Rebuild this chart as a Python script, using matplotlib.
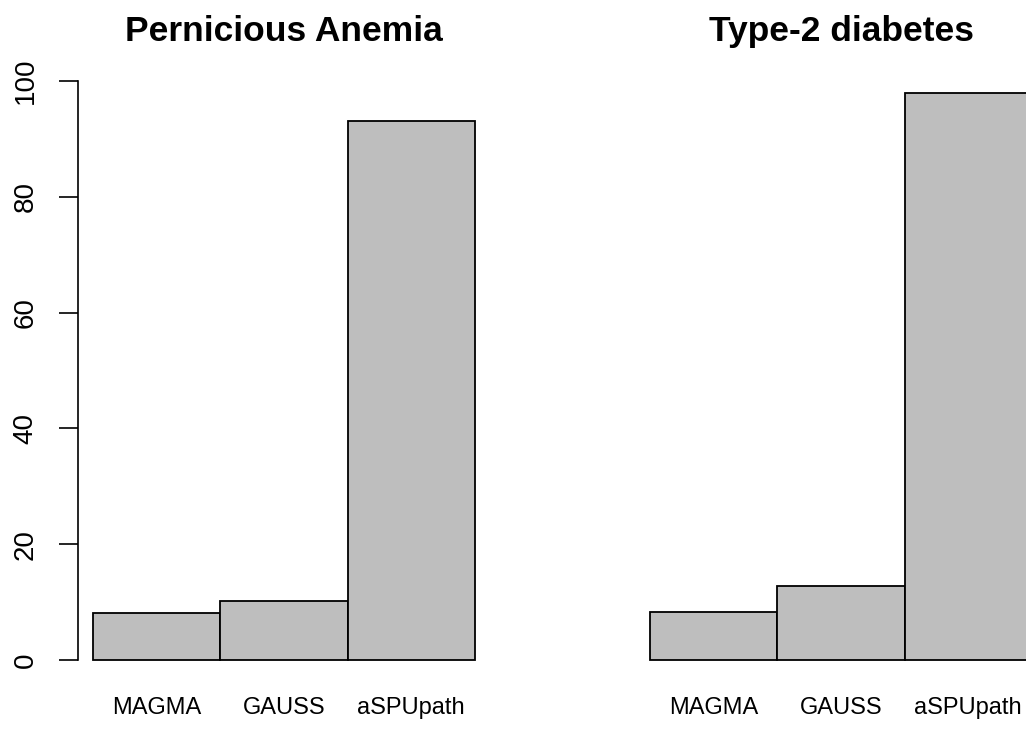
import matplotlib
matplotlib.use("Agg")
import matplotlib.pyplot as plt

# bar values (percent)
methods = ["MAGMA", "GAUSS", "aSPUpath"]
anemia = [8.1, 10.2, 93.1]
diabetes = [8.3, 12.8, 98.0]
titles = ["Pernicious Anemia", "Type-2 diabetes"]
yticks = [0, 20, 40, 60, 80, 100]

plt.rcParams["font.family"] = ["Liberation Sans", "DejaVu Sans"]

W, H = 1026, 732
fig = plt.figure(figsize=(W / 100, H / 100), dpi=100)

# plot regions in pixels (left, top, right, bottom), like R's mfrow=c(1,2)
regions = [(78, 58, 490, 683), (635, 58, 1047, 683)]
series = [anemia, diabetes]

for k, (l, t, r, b) in enumerate(regions):
    ax = fig.add_axes([l / W, (H - b) / H, (r - l) / W, (b - t) / H])
    pos = [i + 0.5 for i in range(len(methods))]
    ax.bar(pos, series[k], width=1.0, color="#BEBEBE",
           edgecolor="black", linewidth=1.3)
    ax.set_xlim(-0.12, 3.12)
    ax.set_ylim(-4, 104)
    for s in ["top", "right", "bottom"]:
        ax.spines[s].set_visible(False)
    ax.set_xticks(pos)
    ax.set_xticklabels(methods, fontsize=17)
    ax.tick_params(axis="x", length=0, pad=10)
    if k == 0:
        ax.spines["left"].set_bounds(0, 100)
        ax.spines["left"].set_linewidth(1.2)
        ax.set_yticks(yticks)
        ax.set_yticklabels([str(v) for v in yticks], fontsize=20)
        ax.tick_params(axis="y", length=13.5, width=1.2, pad=15)
        for lab in ax.get_yticklabels():
            lab.set_rotation(90)
            lab.set_va("center")
            lab.set_ha("right")
    else:
        ax.spines["left"].set_visible(False)
        ax.set_yticks([])
    ax.set_title(titles[k], fontsize=25.5, fontweight="bold", pad=12)

fig.savefig("out.png", dpi=100)
